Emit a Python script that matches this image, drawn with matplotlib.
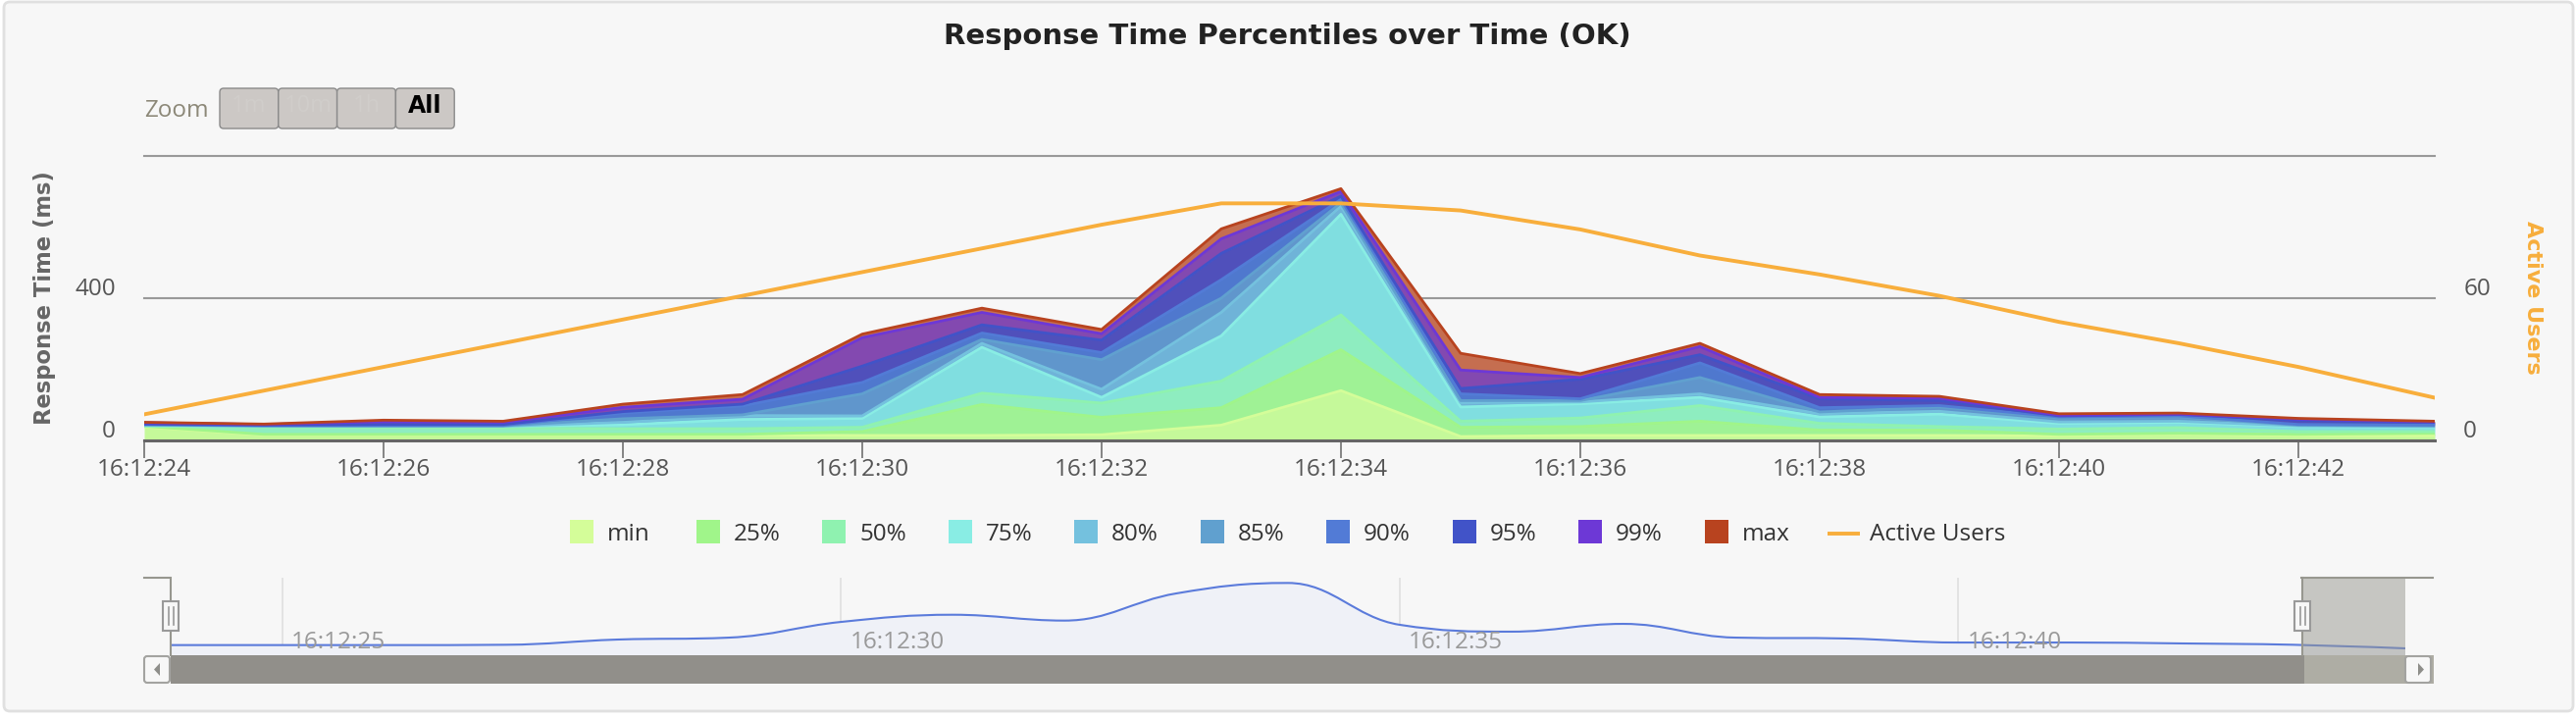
"""Response time percentiles over time, with navigator strip below."""

import matplotlib
matplotlib.use("Agg")
import matplotlib.pyplot as plt
from matplotlib.patches import FancyBboxPatch, PathPatch, Polygon, Rectangle
from matplotlib.path import Path
from matplotlib.transforms import ScaledTranslation

WIDTH, HEIGHT = 2626, 732
plt.rcParams["font.family"] = ["Open Sans", "DejaVu Sans"]

SECONDS = [24, 25, 26, 27, 28, 29, 30, 31, 32, 33, 34, 35, 36, 37, 38, 39, 40, 41, 42, 43.14]
MINS = [38, 15, 15, 15, 15, 15, 14, 14, 16, 43, 140, 11, 14, 14, 14, 14, 13, 18, 14, 13]
P25 = [40, 17, 17, 17, 17, 17, 25, 101, 65, 92, 255, 37, 39, 54, 29, 29, 17, 20, 17, 20]
P50 = [40, 38, 36, 35, 33, 33, 37, 133, 105, 167, 353, 54, 63, 98, 48, 39, 32, 36, 25, 25]
P75 = [42, 40, 40, 40, 44, 59, 62, 262, 121, 294, 636, 94, 103, 121, 66, 74, 48, 51, 39, 36]
P80 = [43, 40, 40, 40, 51, 70, 69, 273, 144, 360, 659, 106, 108, 131, 75, 82, 52, 54, 41, 39]
P85 = [44, 41, 41, 41, 61, 72, 131, 284, 227, 400, 668, 112, 112, 177, 80, 94, 63, 66, 43, 41]
P90 = [45, 42, 42, 42, 77, 97, 163, 302, 247, 452, 678, 131, 117, 218, 92, 98, 66, 69, 45, 43]
P95 = [46, 43, 45, 45, 81, 102, 209, 325, 282, 526, 687, 146, 172, 241, 117, 112, 69, 73, 57, 51]
P99 = [50, 45, 53, 51, 93, 116, 289, 360, 300, 567, 700, 198, 177, 264, 121, 119, 71, 74, 60, 52]
MAXS = [51, 46, 57, 54, 102, 129, 299, 372, 312, 595, 708, 245, 188, 273, 129, 124, 75, 77, 62, 54]
ACTIVE_USERS = [11, 21, 31, 41, 51, 61, 71, 81, 91, 100, 100, 97, 89, 78, 70, 61, 50, 41, 31, 18]

SERIES = [MINS, P25, P50, P75, P80, P85, P90, P95, P99, MAXS]
SERIES_NAMES = ["min", "25%", "50%", "75%", "80%", "85%", "90%", "95%", "99%", "max"]
LINE_COLORS = ["#D4FD99", "#A0F58A", "#8FF2B0", "#89EDE4", "#74C1DE",
               "#60A0CF", "#527BD6", "#4153C8", "#6D38D6", "#B8431F"]
FILL_COLORS = ["#C5F99A", "#9FF295", "#8EEDC0", "#80DEE0", "#6FB3D8",
               "#6096CC", "#4F78CE", "#5050BB", "#8349B0", "#C56E50"]
USERS_COLOR = "#F8AE3C"
TICK_COLOR = "#555555"

X_TICKS = [24, 26, 28, 30, 32, 34, 36, 38, 40, 42]
LEFT_TICKS = [0, 400, 800]
LEFT_LABELS = ["0", "400", ""]
RIGHT_TICKS = [0, 60, 120]
RIGHT_LABELS = ["0", "60", ""]

NAV_SECONDS = list(range(24, 45))
NAV_VALUES = [99, 99, 99, 102, 153, 172, 325, 395, 338, 603, 705,
              297, 230, 306, 172, 163, 124, 124, 115, 102, 67]
NAV_TICKS = [25, 30, 35, 40]

RANGE_BUTTONS = ["1m", "10m", "1h", "All"]


def axes_rect(left, top, right, bottom):
    return [left / WIDTH, 1 - bottom / HEIGHT, (right - left) / WIDTH, (bottom - top) / HEIGHT]


def pixel_layer(fig, zorder):
    layer = fig.add_axes([0, 0, 1, 1], zorder=zorder)
    layer.set_xlim(0, WIDTH)
    layer.set_ylim(HEIGHT, 0)
    layer.axis("off")
    return layer


def time_label(second):
    return f"16:12:{second:02d}"


def spline_path(xs, ys):
    """Bezier path through the points, using the usual Highcharts control points."""
    verts = [(xs[0], 0), (xs[0], ys[0])]
    codes = [Path.MOVETO, Path.LINETO]
    line_verts = [(xs[0], ys[0])]
    line_codes = [Path.MOVETO]
    right = (xs[0], ys[0])
    for i in range(1, len(xs)):
        x, y = xs[i], ys[i]
        if i < len(xs) - 1:
            lx = (1.5 * x + xs[i - 1]) / 2.5
            ly = (1.5 * y + ys[i - 1]) / 2.5
            rx = (1.5 * x + xs[i + 1]) / 2.5
            ry = (1.5 * y + ys[i + 1]) / 2.5
            shift = (ry - ly) * (rx - x) / (rx - lx) + y - ry
            ly += shift
            ry += shift
            if ly > max(ys[i - 1], y):
                ly = max(ys[i - 1], y)
                ry = 2 * y - ly
            elif ly < min(ys[i - 1], y):
                ly = min(ys[i - 1], y)
                ry = 2 * y - ly
            if ry > max(ys[i + 1], y):
                ry = max(ys[i + 1], y)
                ly = 2 * y - ry
            elif ry < min(ys[i + 1], y):
                ry = min(ys[i + 1], y)
                ly = 2 * y - ry
        else:
            lx, ly, rx, ry = x, y, x, y
        segment = [right, (lx, ly), (x, y)]
        verts += segment
        codes += [Path.CURVE4] * 3
        line_verts += segment
        line_codes += [Path.CURVE4] * 3
        right = (rx, ry)
    verts += [(xs[-1], 0), (xs[0], 0)]
    codes += [Path.LINETO, Path.CLOSEPOLY]
    return Path(verts, codes), Path(line_verts, line_codes)


def nudge_down(labels, fig, points):
    shift = ScaledTranslation(0, -points / 72, fig.dpi_scale_trans)
    for label in labels:
        label.set_verticalalignment("bottom")
        label.set_transform(label.get_transform() + shift)


def draw_main(fig):
    ax = fig.add_axes(axes_rect(147, 159, 2482, 449), zorder=2)
    ax.patch.set_visible(False)
    lower = [0] * len(SECONDS)
    for values, fill in zip(SERIES, FILL_COLORS):
        ax.fill_between(SECONDS, lower, values, color=fill, linewidth=0, zorder=3)
        lower = values
    for values, line in zip(SERIES, LINE_COLORS):
        ax.plot(SECONDS, values, color=line, lw=2.0, zorder=4)
    ax.set_xlim(SECONDS[0], SECONDS[-1])
    ax.set_ylim(0, LEFT_TICKS[-1])
    ax.set_xticks(X_TICKS, [time_label(s) for s in X_TICKS])
    ax.set_yticks(LEFT_TICKS, LEFT_LABELS)
    ax.grid(axis="y", color="#999999", lw=1.5, clip_on=False, zorder=1)
    ax.set_axisbelow(True)
    for name in ("top", "left", "right"):
        ax.spines[name].set_visible(False)
    ax.spines["bottom"].set_color("#666666")
    ax.spines["bottom"].set_linewidth(2.2)
    ax.spines["bottom"].set_zorder(6)
    ax.tick_params(axis="x", length=13, width=1.1, color="#666666", labelcolor=TICK_COLOR,
                   labelsize=17.5, pad=0)
    ax.tick_params(axis="y", length=0, labelcolor=TICK_COLOR, labelsize=17.5, pad=21)
    nudge_down(ax.get_yticklabels(), fig, 2.2)

    users = ax.twinx()
    users.patch.set_visible(False)
    users.plot(SECONDS, ACTIVE_USERS, color=USERS_COLOR, lw=2.8, zorder=5)
    users.set_ylim(0, RIGHT_TICKS[-1])
    users.set_yticks(RIGHT_TICKS, RIGHT_LABELS)
    users.tick_params(axis="y", length=0, labelcolor=TICK_COLOR, labelsize=17.5, pad=21)
    nudge_down(users.get_yticklabels(), fig, 2.2)
    for spine in users.spines.values():
        spine.set_visible(False)


def draw_navigator(fig):
    nav = fig.add_axes(axes_rect(174, 589, 2452, 668), zorder=2)
    nav.patch.set_visible(False)
    area, outline = spline_path(NAV_SECONDS, NAV_VALUES)
    nav.add_patch(PathPatch(area, facecolor="#EFF1F7", edgecolor="none"))
    nav.add_patch(PathPatch(outline, facecolor="none", edgecolor="#5B7BDB", lw=1.5))
    nav.set_xlim(NAV_SECONDS[0], NAV_SECONDS[-1])
    nav.set_ylim(0, 756)
    nav.axis("off")
    for second in NAV_TICKS:
        nav.axvline(second, color="#E0E0E0", lw=1.2, zorder=0)
        nav.annotate(time_label(second), (second, 0), xytext=(6.5, 1), textcoords="offset points",
                     color="#999999", fontsize=17.5, ha="left", va="bottom", zorder=5)


def draw_background(fig):
    bg = pixel_layer(fig, 0)
    bg.add_patch(FancyBboxPatch((4, 2), 2619, 723, boxstyle="round,pad=0,rounding_size=6",
                                facecolor="#F7F7F7", edgecolor="#E0E0E0", lw=2))
    bg.text(1312, 37, "Response Time Percentiles over Time (OK)", family="DejaVu Sans",
            fontweight="bold", fontsize=21, color="#222222", ha="center", va="center")
    bg.text(46, 304, "Response Time (ms)", family="DejaVu Sans", fontweight="bold", fontsize=16.3,
            color="#666666", rotation=90, ha="center", va="center")
    bg.text(2582, 303, "Active Users", family="DejaVu Sans", fontweight="bold", fontsize=16,
            color=USERS_COLOR, rotation=270, ha="center", va="center")

    bg.text(147, 113, "Zoom", fontsize=17.5, color="#8C8878", ha="left", va="center")
    for i, name in enumerate(RANGE_BUTTONS):
        left = 224 + i * 59.8
        bg.add_patch(FancyBboxPatch((left, 90), 59.8, 41, boxstyle="round,pad=0,rounding_size=4",
                                    facecolor="#CCC8C5", edgecolor="#8A8A8A", lw=1))
        active = name == "All"
        bg.text(left + 30, 108, name, fontsize=17, ha="center", va="center",
                color="black" if active else "#D0CDCA", fontweight="bold" if active else "normal",
                family="DejaVu Sans" if active else "Open Sans")

    for i, (name, color) in enumerate(zip(SERIES_NAMES, LINE_COLORS)):
        left = 581 + i * 128.5
        bg.add_patch(Rectangle((left, 530), 24, 24, facecolor=color, edgecolor="none"))
        bg.text(left + 38, 545, name, fontsize=17.5, color="#333333", ha="left", va="center")
    bg.plot([1863, 1896], [543.5, 543.5], color=USERS_COLOR, lw=2.8, solid_capstyle="butt")
    bg.text(1906, 545, "Active Users", fontsize=17.5, color="#333333", ha="left", va="center")


def draw_handle(top, center):
    top.add_patch(Rectangle((center - 8, 613), 16, 30, facecolor="#F7F7F7", edgecolor="#999999",
                            lw=1.5, zorder=4))
    for offset in (-2.5, 2.5):
        top.plot([center + offset] * 2, [619, 637], color="#999999", lw=1.2, zorder=5)


def draw_scroller(fig):
    top = pixel_layer(fig, 5)
    top.add_patch(Rectangle((2347, 589), 105, 79, facecolor="#97978F", alpha=0.5, edgecolor="none"))
    top.plot([147, 174, 174], [589, 589, 668], color="#97978F", lw=1.5, solid_joinstyle="miter")
    top.plot([2347, 2347], [668, 589], color="#97978F", lw=1.5)
    top.plot([2346, 2480], [589, 589], color="#97978F", lw=1.5)
    top.add_patch(Rectangle((174, 668), 2175, 29, facecolor="#918F8A", edgecolor="none"))
    top.add_patch(Rectangle((2349, 668), 103, 29, facecolor="#AEADA4", edgecolor="none"))
    top.add_patch(Rectangle((2452, 668), 29, 29, facecolor="#AEADA4", edgecolor="none"))
    for left in (147, 2452):
        top.add_patch(FancyBboxPatch((left, 669), 26, 27, boxstyle="round,pad=0,rounding_size=3",
                                     facecolor="#F7F7F7", edgecolor="#A3A3A0", lw=1.5))
    top.add_patch(Polygon([(163, 676), (163, 689), (157, 682.5)], facecolor="#8E8E8A"))
    top.add_patch(Polygon([(2465, 676), (2465, 689), (2471, 682.5)], facecolor="#8E8E8A"))
    draw_handle(top, 174)
    draw_handle(top, 2347)


def main():
    fig = plt.figure(figsize=(WIDTH / 100, HEIGHT / 100), dpi=100, facecolor="white")
    draw_background(fig)
    draw_main(fig)
    draw_navigator(fig)
    draw_scroller(fig)
    fig.savefig("out.png", dpi=100, facecolor="white")


main()
